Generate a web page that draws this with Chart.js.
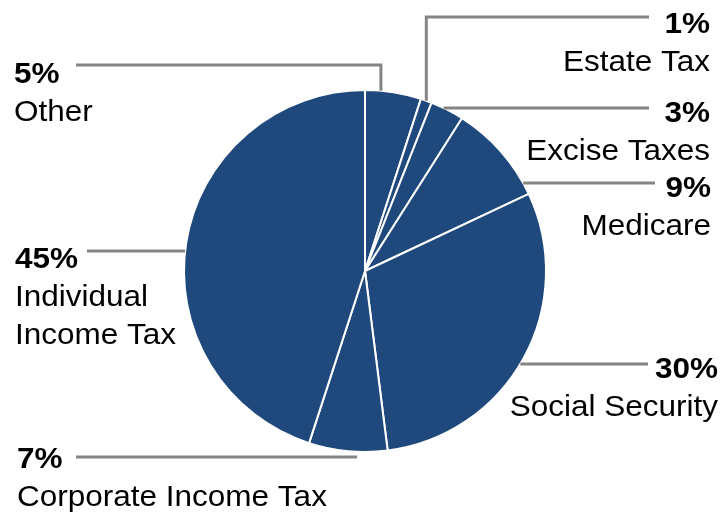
<!DOCTYPE html>
<html>
<head>
<meta charset="utf-8">
<style>
  html, body { margin: 0; padding: 0; background: #ffffff; }
  canvas { display: block; }
</style>
<script src="https://cdn.jsdelivr.net/npm/chart.js@4/dist/chart.umd.min.js"></script>
</head>
<body>
<canvas id="revenue" width="723" height="513"></canvas>
<script>
// Federal revenue sources, share of total (percent)
const categories = ['Other', 'Estate Tax', 'Excise Taxes', 'Medicare', 'Social Security', 'Corporate Income Tax', 'Individual Income Tax'];
const shares = [5, 1, 3, 9, 30, 7, 45];
// Text shown under each percentage (one entry per line)
const labelLines = [
  ['Other'],
  ['Estate Tax'],
  ['Excise Taxes'],
  ['Medicare'],
  ['Social Security'],
  ['Corporate Income Tax'],
  ['Individual', 'Income Tax']
];

// Callout placement: text anchor, baseline of the percent line, leader height and outer end,
// and how the leader meets the pie ('edge' = runs to the rim, 'elbow' = turns down to the rim,
// 'below' = stops under the slice).
const calloutLayout = [
  { align: 'left',  x: 14,  textY: 83,  lineY: 65,  lineEnd: 76,  kind: 'elbow', frac: 0.28 },
  { align: 'right', x: 710, textY: 33,  lineY: 17,  lineEnd: 649, kind: 'elbow', frac: 0.5 },
  { align: 'right', x: 710, textY: 122, lineY: 108, lineEnd: 649, kind: 'edge' },
  { align: 'right', x: 711, textY: 197, lineY: 183, lineEnd: 655, kind: 'edge' },
  { align: 'right', x: 718, textY: 378, lineY: 364, lineEnd: 648, kind: 'edge' },
  { align: 'left',  x: 17,  textY: 468, lineY: 457, lineEnd: 76,  kind: 'below', frac: 0.385 },
  { align: 'left',  x: 15,  textY: 268, lineY: 251, lineEnd: 87,  kind: 'edge' }
];

const FONT_FAMILY = '"Liberation Sans", Arial, Helvetica, sans-serif';
const FONT_SIZE = 30;
const TEXT_STRETCH = 1.05;
const LINE_STEP = 38;

function drawStretched(ctx, text, x, y) {
  ctx.save();
  ctx.translate(x, y);
  ctx.scale(TEXT_STRETCH, 1);
  ctx.fillText(text, 0, 0);
  ctx.restore();
}

const calloutPlugin = {
  id: 'callouts',
  afterDatasetsDraw(chart) {
    const ctx = chart.ctx;
    const arcs = chart.getDatasetMeta(0).data;
    ctx.save();
    arcs.forEach((arc, i) => {
      const lay = calloutLayout[i];
      const cx = arc.x, cy = arc.y, r = arc.outerRadius;
      const a0 = arc.startAngle, a1 = arc.endAngle;
      const mid = (a0 + a1) / 2;

      // leader line
      ctx.strokeStyle = '#858585';
      ctx.lineWidth = 3;
      ctx.lineCap = 'butt';
      ctx.lineJoin = 'miter';
      ctx.beginPath();
      ctx.moveTo(lay.lineEnd, lay.lineY);
      if (lay.kind === 'edge') {
        const dy = lay.lineY - cy;
        const dx = Math.sqrt(Math.max(r * r - dy * dy, 0));
        const side = Math.cos(mid) >= 0 ? 1 : -1;
        ctx.lineTo(cx + side * dx, lay.lineY);
      } else {
        const a = a0 + lay.frac * (a1 - a0);
        const ax = cx + r * Math.cos(a);
        const ay = cy + r * Math.sin(a);
        ctx.lineTo(ax, lay.lineY);
        if (lay.kind === 'elbow') ctx.lineTo(ax, ay);
      }
      ctx.stroke();

      // labels
      ctx.fillStyle = '#000000';
      ctx.textAlign = lay.align;
      ctx.textBaseline = 'alphabetic';
      ctx.font = 'bold ' + FONT_SIZE + 'px ' + FONT_FAMILY;
      drawStretched(ctx, shares[i] + '%', lay.x, lay.textY);
      ctx.font = FONT_SIZE + 'px ' + FONT_FAMILY;
      labelLines[i].forEach((line, k) => {
        drawStretched(ctx, line, lay.x, lay.textY + LINE_STEP * (k + 1));
      });
    });
    ctx.restore();
  }
};

new Chart(document.getElementById('revenue'), {
  type: 'pie',
  data: {
    labels: categories,
    datasets: [{
      data: shares,
      backgroundColor: '#1f497d',
      borderColor: '#ffffff',
      borderWidth: 2
    }]
  },
  options: {
    responsive: false,
    animation: false,
    layout: { padding: { left: 183, right: 176, top: 89, bottom: 60 } },
    plugins: {
      legend: { display: false },
      tooltip: { enabled: false }
    }
  },
  plugins: [calloutPlugin]
});
</script>
</body>
</html>
